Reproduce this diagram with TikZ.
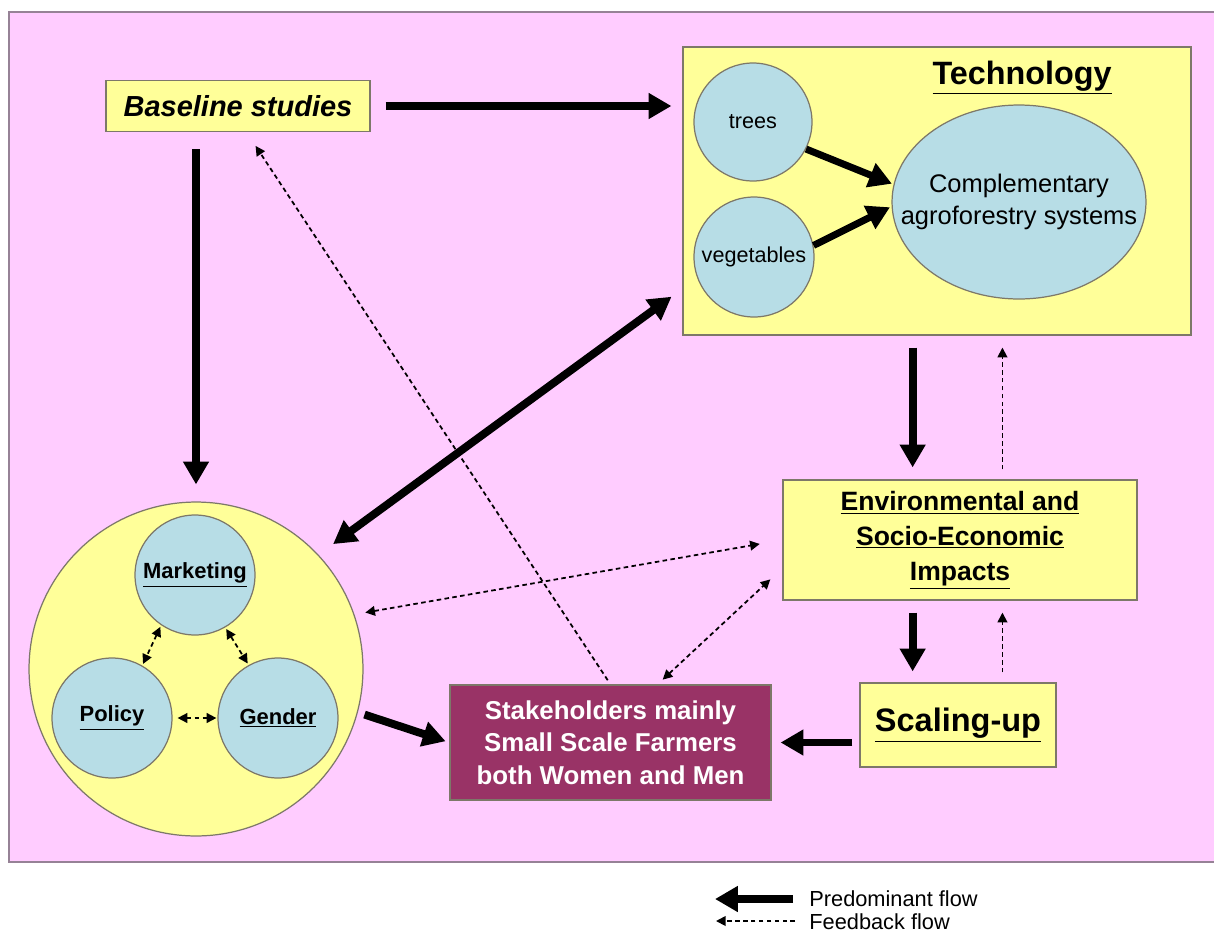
\documentclass[tikz,border=0pt]{standalone}
\usepackage{fontspec}
\setmainfont{Liberation Sans}
\usepackage{xcolor}
\usepackage{tikz}
\usetikzlibrary{shapes.geometric,arrows.meta,positioning}

\definecolor{fondo}{RGB}{255,204,255}
\definecolor{amarillo}{RGB}{255,255,153}
\definecolor{celeste}{RGB}{183,221,230}
\definecolor{granate}{RGB}{153,51,102}
\definecolor{borde}{RGB}{125,120,105}
\definecolor{marco}{RGB}{150,130,150}

\tikzset{
  caja/.style={draw=borde, line width=0.7pt, fill=amarillo, align=center, inner sep=0pt},
  bola/.style={circle, draw=borde, line width=0.7pt, fill=celeste, align=center, inner sep=0pt},
  flujo/.style={line width=4.5pt, -{Triangle[length=13pt,width=14pt]}},
  flujodoble/.style={line width=4.5pt, {Triangle[length=13pt,width=14pt]}-{Triangle[length=13pt,width=14pt]}},
  retro/.style={line width=1pt, dash pattern=on 2.6pt off 1.9pt, -{Triangle[length=5.5pt,width=5.5pt]}},
  retrodoble/.style={retro, {Triangle[length=5.5pt,width=5.5pt]}-{Triangle[length=5.5pt,width=5.5pt]}},
}

\begin{document}
\begin{tikzpicture}[x=0.02cm, y=-0.02cm]
\useasboundingbox (0,0) rectangle (1214,934);

% Fondo rosa
\draw[marco, line width=1.2pt, fill=fondo] (9,12) rectangle (1222,862);

% Estudios de base
\node[caja, minimum width=5.28cm, minimum height=1.02cm, font=\fontsize{16.5}{20}\selectfont\bfseries\itshape] (base) at (238,106) {Baseline studies};

% Bloque de tecnologia
\node[caja, minimum width=10.16cm, minimum height=5.76cm] (tech) at (937,191) {};
\node[font=\fontsize{18.4}{22}\selectfont\bfseries] (techlbl) at (1022,78) {\underline{Technology}};
\node[bola, minimum size=2.36cm, font=\fontsize{12.3}{15}\selectfont] (trees) at (753,122) {trees};
\node[bola, minimum size=2.4cm, font=\fontsize{12.3}{15}\selectfont] (veg) at (754,257) {vegetables};
\node[ellipse, draw=borde, line width=0.7pt, fill=celeste, minimum width=5.08cm, minimum height=3.88cm, inner sep=0pt] (comp) at (1019,202) {};
\node[align=center, inner sep=0pt, font=\fontsize{14.5}{18.2}\selectfont] (comptxt) at (comp) {Complementary\\agroforestry systems};

% Circulo grande: mercado, politica y genero
\node[circle, draw=borde, line width=0.7pt, fill=amarillo, minimum size=6.68cm, inner sep=0pt] (cluster) at (196,669) {};
\node[bola, minimum size=2.4cm, font=\fontsize{12.5}{15}\selectfont\bfseries] (mkt) at (195,575) {\underline{Marketing}};
\node[bola, minimum size=2.4cm, font=\fontsize{12.5}{15}\selectfont\bfseries] (pol) at (112,718) {\underline{Policy}};
\node[bola, minimum size=2.4cm, font=\fontsize{12.5}{15}\selectfont\bfseries] (gen) at (278,718) {\underline{Gender}};

% Impactos y escalamiento
\node[caja, minimum width=7.08cm, minimum height=2.4cm, font=\fontsize{15.1}{19.9}\selectfont\bfseries] (env) at (960,540) {\underline{Environmental and}\\\underline{Socio-Economic}\\\underline{Impacts}};
\node[caja, minimum width=3.92cm, minimum height=1.68cm, font=\fontsize{18.5}{22}\selectfont\bfseries] (scal) at (958,725) {\underline{Scaling-up}};

% Actores
\node[draw=borde, line width=0.7pt, fill=granate, text=white, minimum width=6.42cm, minimum height=2.3cm, inner sep=0pt, align=center, font=\fontsize{14.7}{18.5}\selectfont\bfseries] (stake) at (610.5,742.5) {Stakeholders mainly\\Small Scale Farmers\\both Women and Men};

% Flujo predominante
\draw[flujo, shorten <=0.3cm, shorten >=0.22cm] (base.east) -- (base.east -| tech.west);
\draw[flujo, shorten <=0.34cm, shorten >=0.34cm] (base.south -| cluster.north) -- (cluster.north);
\draw[flujo, line width=4pt, shorten >=1pt] (trees.-27) -- (comp.172);
\draw[flujo, line width=4pt, shorten >=1pt] (veg.11) -- (comp.182);
\draw[flujodoble, shorten <=0.36cm, shorten >=0.27cm] (cluster.43) -- (tech.201);
\draw[flujo, shorten <=0.24cm, shorten >=0.24cm] (tech.south -| env.128) -- (env.128);
\draw[flujo, shorten <=0.24cm, shorten >=0.22cm] (env.-128) -- (scal.north -| env.-128);
\draw[flujo, shorten <=0.14cm, shorten >=0.18cm] (scal.west |- stake.east) -- (stake.east);
\draw[flujo, shorten <=0.14cm, shorten >=0.08cm] (cluster.-15) -- (stake.west);

% Retroalimentacion
\draw[retro, shorten <=0.1cm, shorten >=0.33cm] (stake.north) -- (base.-72);
\draw[retrodoble, shorten <=0.22cm, shorten >=0.46cm] (cluster.19) -- (env.west);
\draw[retrodoble, shorten <=0.14cm, shorten >=0.33cm] (stake.51) -- (env.189);
\draw[retro, shorten <=0.2cm, shorten >=0.24cm] (env.55) -- (tech.south -| env.55);
\draw[retro, shorten <=0.2cm, shorten >=0.24cm] (scal.north -| env.-55) -- (env.-55);
\draw[retrodoble, shorten <=1pt, shorten >=1pt] (mkt.-124) -- (pol.60);
\draw[retrodoble, shorten <=1pt, shorten >=1pt] (mkt.-60) -- (gen.119);
\draw[retrodoble, shorten <=0.1cm, shorten >=0.02cm] (pol.east) -- (gen.west);

% Leyenda
\node[anchor=west, inner sep=0pt, font=\fontsize{12.4}{15}\selectfont] (predlbl) at (809,899) {Predominant flow};
\node[anchor=west, inner sep=0pt, font=\fontsize{12.4}{15}\selectfont] (fblbl) at (809,922) {Feedback flow};
\coordinate (predtip) at (715,899);
\coordinate (fbtip) at (716,921);
\draw[flujo, shorten <=0.32cm] (predlbl.west) -- (predtip);
\draw[retro, shorten <=0.28cm] (fblbl.west |- fbtip) -- (fbtip);
\end{tikzpicture}
\end{document}
